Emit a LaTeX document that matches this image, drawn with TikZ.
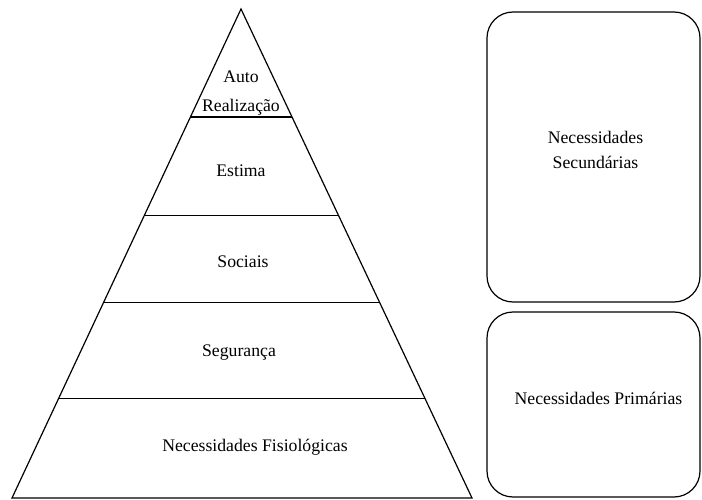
\documentclass[tikz,border=0pt]{standalone}
\usepackage{fontspec}
\setmainfont{Liberation Serif}
\usetikzlibrary{calc}

\tikzset{
    level/.style={font=\fontsize{17.7}{29}\selectfont, align=center, inner sep=0pt},
    needbox/.style={draw, rounded corners=26pt, line width=1.2pt, inner sep=0pt},
    needtext/.style={font=\fontsize{17.7}{25}\selectfont, align=center, inner sep=0pt}
}

\begin{document}
\begin{tikzpicture}[x=1pt, y=-1pt, line width=1.2pt]

%%Paramaters
%% pyramid centre, can be modified
\def\midX{241}

\useasboundingbox (0,0) rectangle (702,500);

    \coordinate (apex) at (\midX, 9);
    \coordinate (baseL) at (12, 498);
    \coordinate (baseR) at (472, 498);

    %% pyramid outline
    \draw (baseL) -- (apex) -- (baseR) -- cycle;

    %% layer lines
    \draw ($(apex)!0.221!(baseL)$) -- ($(apex)!0.221!(baseR)$);
    \draw ($(apex)!0.423!(baseL)$) -- ($(apex)!0.423!(baseR)$);
    \draw ($(apex)!0.601!(baseL)$) -- ($(apex)!0.601!(baseR)$);
    \draw ($(apex)!0.796!(baseL)$) -- ($(apex)!0.796!(baseR)$);

    %% layer labels
    \node[level] (auto) at (\midX, 93) {Auto\\Realização};
    \node[level] (estima) at (\midX, 171) {Estima};
    \node[level] (sociais) at (243, 262) {Sociais};
    \node[level] (seguranca) at (239, 353) {Segurança};
    \node[level] (fisio) at (255, 447) {Necessidades Fisiológicas};

    %% right boxes
    \node[needbox, minimum width=213pt, minimum height=290pt] (secund) at (593.5, 157) {};
    \node[needtext] (secundTxt) at ($(secund)+(2,-7)$) {Necessidades\\Secundárias};

    \node[needbox, minimum width=213pt, minimum height=185pt] (prim) at (593.5, 404.5) {};
    \node[needtext] (primTxt) at ($(prim)+(5,-6)$) {Necessidades Primárias};

\end{tikzpicture}
\end{document}
